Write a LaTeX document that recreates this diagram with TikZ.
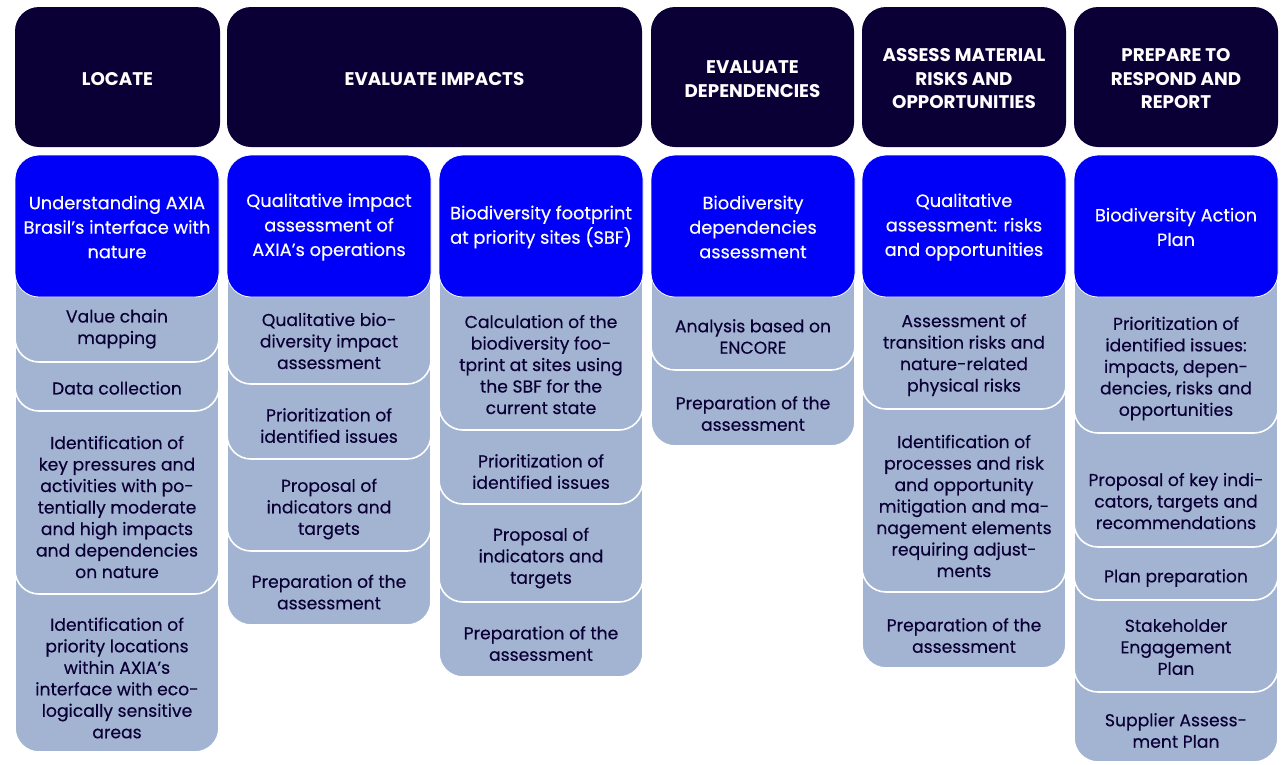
\documentclass[tikz,border=0pt]{standalone}
\usepackage{fontspec}
\setmainfont{Poppins}
\newfontfamily\cardfont{Poppins}[FakeBold=0.35]
\definecolor{navy}{HTML}{0B0036}
\definecolor{vivid}{HTML}{0000F8}
\definecolor{pale}{HTML}{A2B4D2}

% one stacked card: name, left x, bottom y, text centre y, text
\newcommand\card[5]{%
  \path[cardbox] (#2,230) rectangle (#2+204,#3);
  \node[cardtext] (#1) at (#2+102,#4) {#5};}
% blue title card of a column: name, left x, text
\newcommand\leadcard[3]{%
  \path[leadbox] (#2,155) rectangle (#2+204,297);
  \node[leadtext] (#1) at (#2+102,226) {#3};}

\begin{document}
\begin{tikzpicture}[x=1pt,y=-1pt,
  hdrbox/.style={fill=navy, rounded corners=24pt},
  hdrtext/.style={text=white, font=\bfseries\fontsize{18.3}{23.5}\selectfont, align=center, inner sep=0pt},
  leadbox/.style={fill=vivid, draw=white, line width=0.8pt, rounded corners=24pt},
  leadtext/.style={text=white, font=\cardfont\fontsize{17.8}{24.5}\selectfont, align=center, inner sep=0pt, yshift=-1pt},
  cardbox/.style={fill=pale, draw=white, line width=1.6pt, rounded corners=24pt},
  cardtext/.style={text=navy, font=\cardfont\fontsize{17.2}{21.5}\selectfont, align=center, inner sep=0pt, yshift=-2pt}]

\useasboundingbox (0,0) rectangle (1282,764);

% stage headers
\path[hdrbox] (15,7) rectangle (220,147);
\node[hdrtext] (hlocate) at (117.5,79) {LOCATE};
\path[hdrbox] (227,7) rectangle (642,147);
\node[hdrtext] (himpacts) at (434.5,79) {EVALUATE IMPACTS};
\path[hdrbox] (651,7) rectangle (854,147);
\node[hdrtext] (hdeps) at (752.5,79) {EVALUATE\\DEPENDENCIES};
\path[hdrbox] (862,7) rectangle (1066,147);
\node[hdrtext] (hrisks) at (964,79) {ASSESS MATERIAL\\RISKS AND\\OPPORTUNITIES};
\path[hdrbox] (1074,7) rectangle (1278,147);
\node[hdrtext] (hreport) at (1176,79) {PREPARE TO\\RESPOND AND\\REPORT};

% column 1
\card{c1d}{15}{752}{676}{Identification of\\priority locations\\within AXIA’s\\interface with eco-\\logically sensitive\\areas}
\card{c1c}{15}{594}{505}{Identification of\\key pressures and\\activities with po-\\tentially moderate\\and high impacts\\and dependencies\\on nature}
\card{c1b}{15}{411}{386}{Data collection}
\card{c1a}{15}{362}{327}{Value chain\\mapping}
\leadcard{l1}{15}{Understanding AXIA\\Brasil’s interface with\\nature}

% column 2
\card{c2d}{227}{625}{590}{Preparation of the\\assessment}
\card{c2c}{227}{551}{507}{Proposal of\\indicators and\\targets}
\card{c2b}{227}{459}{423.5}{Prioritization of\\identified issues}
\card{c2a}{227}{384}{339}{Qualitative bio-\\diversity impact\\assessment}
\leadcard{l2}{227}{Qualitative impact\\assessment of\\AXIA’s operations}

% column 3
\card{c3d}{439}{677}{641.5}{Preparation of the\\assessment}
\card{c3c}{439}{602}{556}{Proposal of\\indicators and\\targets}
\card{c3b}{439}{504}{469.5}{Prioritization of\\identified issues}
\card{c3a}{439}{430}{362.5}{Calculation of the\\biodiversity foo-\\tprint at sites using\\the SBF for the\\current state}
\leadcard{l3}{439}{Biodiversity footprint\\at priority sites (SBF)}

% column 4
\card{c4b}{651}{446}{411.5}{Preparation of the\\assessment}
\card{c4a}{651}{370}{334.5}{Analysis based on\\ENCORE}
\leadcard{l4}{651}{Biodiversity\\dependencies\\assessment}

% column 5
\card{c5c}{862}{668}{633.5}{Preparation of the\\assessment}
\card{c5b}{862}{592}{504}{Identification of\\processes and risk\\and opportunity\\mitigation and ma-\\nagement elements\\requiring adjust-\\ments}
\card{c5a}{862}{409}{353}{Assessment of\\transition risks and\\nature-related\\physical risks}
\leadcard{l5}{862}{Qualitative\\assessment: risks\\and opportunities}

% column 6
\card{c6e}{1074}{762}{728.5}{Supplier Assess-\\ment Plan}
\card{c6d}{1074}{692}{645}{Stakeholder\\Engagement\\Plan}
\card{c6c}{1074}{600}{576}{Plan preparation}
\card{c6b}{1074}{547}{499}{Proposal of key indi-\\cators, targets and\\recommendations}
\card{c6a}{1074}{433}{366.5}{Prioritization of\\identified issues:\\impacts, depen-\\dencies, risks and\\opportunities}
\leadcard{l6}{1074}{Biodiversity Action\\Plan}

\end{tikzpicture}
\end{document}
